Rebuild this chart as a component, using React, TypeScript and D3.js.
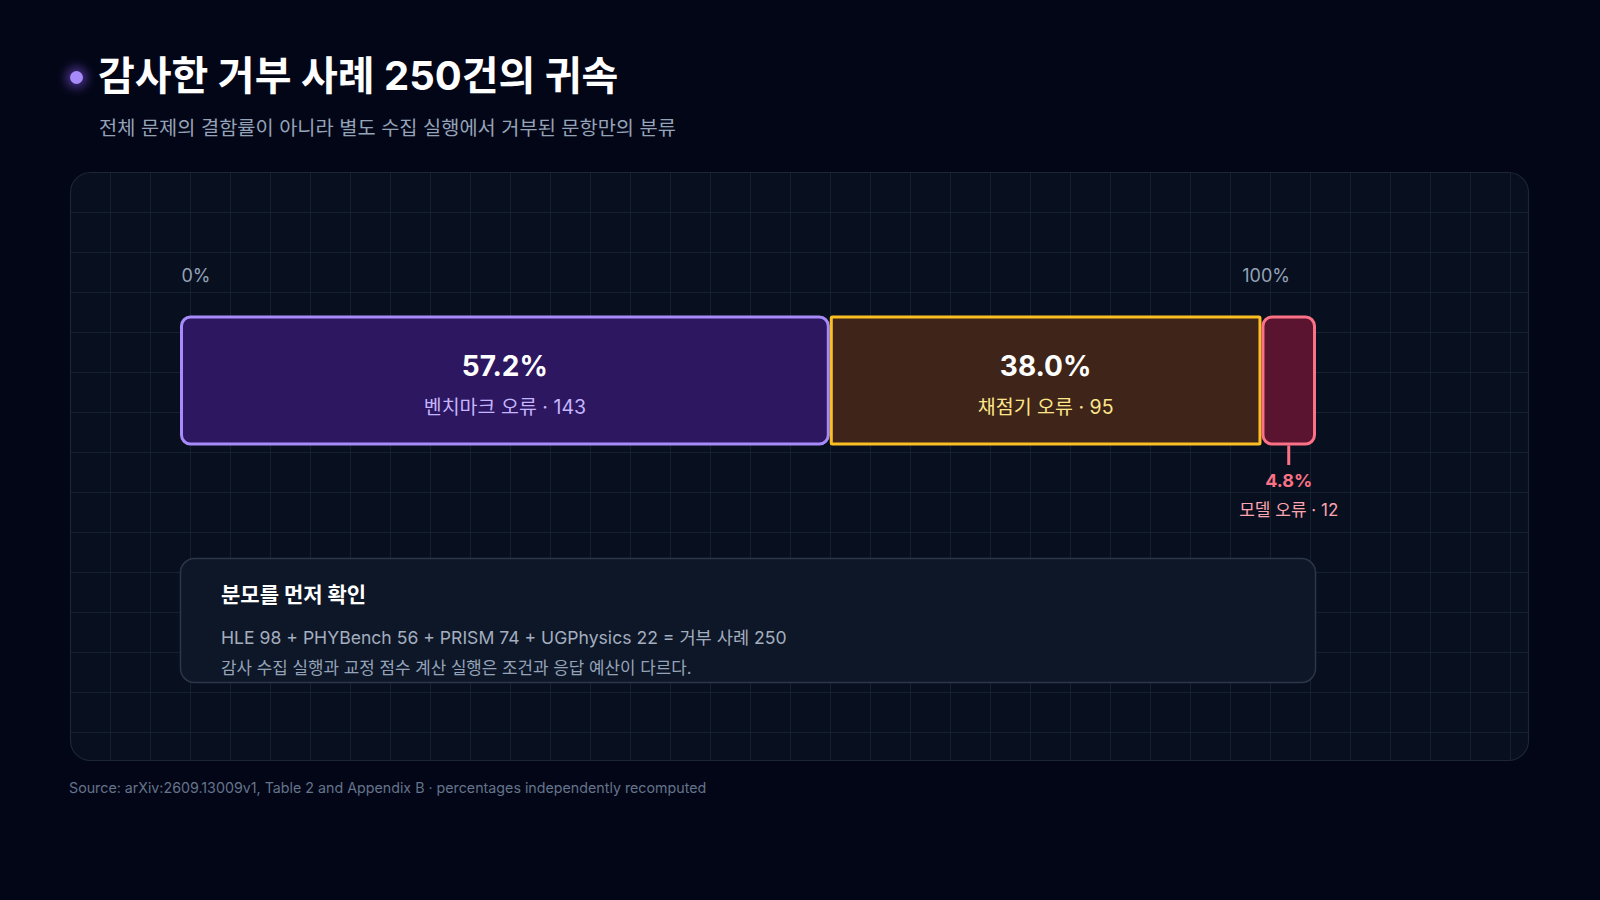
import React from 'react';
import * as d3 from 'd3';

const categories = ['벤치마크 오류', '채점기 오류', '모델 오류'];
const counts = [143, 95, 12];
const tickLabels = ['0%', '100%'];
const benchmarks = ['HLE', 'PHYBench', 'PRISM', 'UGPhysics'];
const benchmarkCounts = [98, 56, 74, 22];

const W = 1600;
const H = 900;
const FONT = "Inter, 'Noto Sans CJK KR', sans-serif";

const palette = [
  { fill: '#2c1760', stroke: '#a78bfa', sub: '#c4b5fd', rx: 9 },
  { fill: '#3f2419', stroke: '#fbbf24', sub: '#fde68a', rx: 1 },
  { fill: '#5a1430', stroke: '#fb7185', sub: '#fda4af', rx: 9 },
];

export default function App() {
  const total = d3.sum(counts);
  const x = d3.scaleLinear().domain([0, total]).range([180, 1316]);
  const stack = d3.cumsum(counts);
  const starts = counts.map((c, i) => stack[i] - c);
  const fmt = d3.format('.1f');

  const panel = { x: 70.5, y: 172.5, w: 1458, h: 588 };
  const barY = 317;
  const barH = 127;

  const gridX = d3.range(panel.x + 40, panel.x + panel.w, 40);
  const gridY = d3.range(panel.y + 40, panel.y + panel.h, 40);

  const eq =
    benchmarks.map((b, i) => `${b} ${benchmarkCounts[i]}`).join(' + ') +
    ` = 거부 사례 ${total}`;

  return (
    <div style={{ position: 'absolute', left: 0, top: 0, width: W, height: H }}>
      <svg width={W} height={H} style={{ display: 'block' }} fontFamily={FONT}>
        <defs>
          <clipPath id="panelClip">
            <rect x={panel.x} y={panel.y} width={panel.w} height={panel.h} rx={20} />
          </clipPath>
          <filter id="glow" x="-200%" y="-200%" width="500%" height="500%">
            <feGaussianBlur stdDeviation="5" />
          </filter>
        </defs>
        <rect x={0} y={0} width={W} height={H} fill="#030617" />

        {/* title */}
        <circle cx={76.5} cy={77.5} r={11} fill="#8b5cf6" opacity={0.45} filter="url(#glow)" />
        <circle cx={76.5} cy={77.5} r={6.5} fill="#a78bfa" />
        <text x={98} y={90} fill="#ffffff" fontSize={40} fontWeight={700}>
          감사한 거부 사례 250건의 귀속
        </text>
        <text x={99} y={135} fill="#94a3b8" fontSize={19.75}>
          전체 문제의 결함률이 아니라 별도 수집 실행에서 거부된 문항만의 분류
        </text>

        {/* panel */}
        <rect x={panel.x} y={panel.y} width={panel.w} height={panel.h} rx={20} fill="#08101f" />
        <g clipPath="url(#panelClip)" stroke="#16212f" strokeWidth={1}>
          {gridX.map((gx) => (
            <line key={'gx' + gx} x1={gx} x2={gx} y1={panel.y} y2={panel.y + panel.h} />
          ))}
          {gridY.map((gy) => (
            <line key={'gy' + gy} x1={panel.x} x2={panel.x + panel.w} y1={gy} y2={gy} />
          ))}
        </g>
        <rect x={panel.x} y={panel.y} width={panel.w} height={panel.h} rx={20} fill="none" stroke="#1c2636" strokeWidth={1.2} />

        {/* axis labels */}
        <text x={x(0) + 1.5} y={282} fill="#94a3b8" fontSize={18}>
          {tickLabels[0]}
        </text>
        <text x={x(total) - 26} y={282} fill="#94a3b8" fontSize={18} textAnchor="end">
          {tickLabels[1]}
        </text>

        {/* bars */}
        {counts.map((c, i) => {
          const x0 = x(starts[i]);
          const x1 = x(stack[i]);
          const p = palette[i];
          const cx = (x0 + x1) / 2;
          const pct = fmt((c / total) * 100) + '%';
          const inside = x1 - x0 > 150;
          return (
            <g key={categories[i]}>
              <rect
                x={x0 + 1.5}
                y={barY}
                width={x1 - x0 - 3}
                height={barH}
                rx={p.rx}
                fill={p.fill}
                stroke={p.stroke}
                strokeWidth={3}
              />
              {inside ? (
                <>
                  <text x={cx} y={376} fill="#ffffff" fontSize={28} fontWeight={700} textAnchor="middle">
                    {pct}
                  </text>
                  <text x={cx} y={414} fill={p.sub} fontSize={19.5} textAnchor="middle">
                    {`${categories[i]} · ${c}`}
                  </text>
                </>
              ) : (
                <>
                  <line x1={cx} x2={cx} y1={barY + barH + 1.5} y2={barY + barH + 21} stroke={p.stroke} strokeWidth={3} />
                  <text x={cx} y={487} fill={p.stroke} fontSize={18} fontWeight={700} textAnchor="middle">
                    {pct}
                  </text>
                  <text x={cx} y={516} fill={p.sub} fontSize={17} textAnchor="middle">
                    {`${categories[i]} · ${c}`}
                  </text>
                </>
              )}
            </g>
          );
        })}

        {/* note box */}
        <rect x={x(0) + 0.5} y={558.5} width={x(total) - x(0) - 1} height={124} rx={14} fill="#0e1728" stroke="#2b3648" strokeWidth={1.5} />
        <text x={221} y={602} fill="#ffffff" fontSize={21} fontWeight={700}>
          분모를 먼저 확인
        </text>
        <text x={221} y={644} fill="#a3aebf" fontSize={17.6}>
          {eq}
        </text>
        <text x={221} y={674} fill="#94a3b8" fontSize={16.85}>
          감사 수집 실행과 교정 점수 계산 실행은 조건과 응답 예산이 다르다.
        </text>

        {/* footer */}
        <text x={69} y={793} fill="#64748b" fontSize={14.25}>
          Source: arXiv:2609.13009v1, Table 2 and Appendix B · percentages independently recomputed
        </text>
      </svg>
    </div>
  );
}
